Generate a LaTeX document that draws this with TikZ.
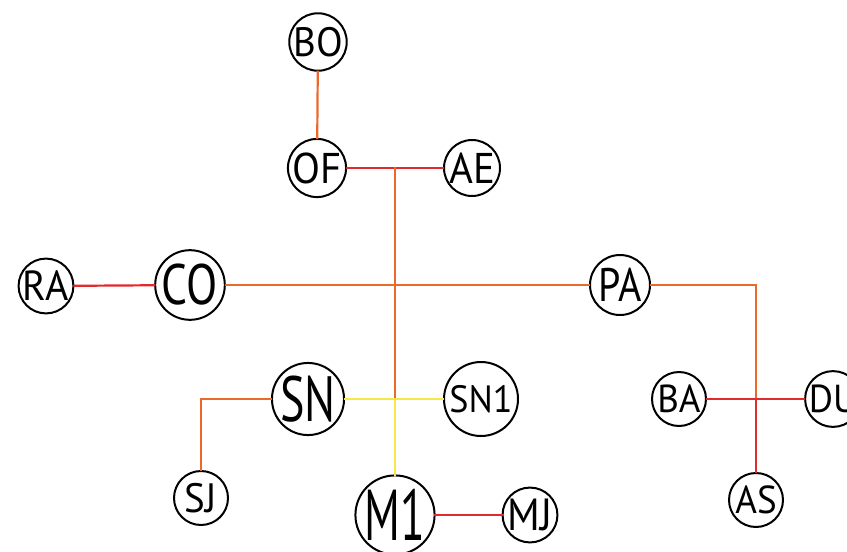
\documentclass[tikz,border=0pt]{standalone}
\usepackage{fontspec}
\usepackage{graphicx}
\setmainfont{PT Sans}
\usetikzlibrary{calc}
\definecolor{lnRed}{HTML}{E02A2E}
\definecolor{lnOrg}{HTML}{EA6A2C}
\definecolor{lnYel}{HTML}{F6E847}
\newcommand{\lbl}[3][1]{\scalebox{#1}[1]{\fontsize{#2}{#2}\selectfont #3}}

\begin{document}
\begin{tikzpicture}[x=1pt,y=-1pt,
  stn/.style={draw,circle,line width=2pt,inner sep=0pt,minimum size=#1},
  lk/.style={line width=2.2pt,line cap=rect}]
  \useasboundingbox (0,0) rectangle (847,552);
  \clip (0,0) rectangle (847,552);
  % upper branch
  \node[stn=54] (BO) at (318,42) {\lbl[0.95]{41}{BO}};
  \node[stn=56] (OF) at (317,168) {\lbl[0.95]{43}{OF}};
  \node[stn=56] (AE) at (472,168) {\lbl[0.95]{43}{AE}};
  % middle line
  \node[stn=52] (RA) at (46,286) {\lbl[0.95]{42}{RA}};
  \node[stn=66] (CO) at (190,285) {\lbl[0.8]{57}{CO}};
  \node[stn=60] (PA) at (620,285) {\lbl[0.85]{47}{PA}};
  % lower left
  \node[stn=72] (SN) at (308,399) {\lbl[0.72]{64}{SN}};
  \node[stn=74] (SN1) at (481,399) {\lbl[0.95]{38}{SN1}};
  \node[stn=54] (SJ) at (201,498) {\lbl[0.95]{41}{SJ}};
  \node[stn=74] (M1) at (395,515) {\lbl[0.63]{72}{M1}};
  \node[stn=54] (MJ) at (530,515) {\lbl[0.92]{45}{MJ}};
  % lower right
  \node[stn=54] (BA) at (679,399) {\lbl[0.95]{39}{BA}};
  \node[stn=54] (DU) at (833,399) {\lbl[0.95]{39}{DU}};
  \node[stn=54] (AS) at (756,500) {\lbl[0.95]{39}{AS}};
  % junctions
  \coordinate (j1) at (395,168);
  \coordinate (j2) at (395,399);
  \coordinate (j3) at (756,399);
  % links
  \draw[lk,lnOrg] (BO) -- (OF);
  \draw[lk,lnRed] (OF) -- (AE);
  \draw[lk,lnOrg] (j1) -- (j2);
  \draw[lk,lnYel] (j2) -- (M1);
  \draw[lk,lnYel] (SN) -- (SN1);
  \draw[lk,lnOrg] (SN) -| (SJ);
  \draw[lk,lnRed] (M1) -- (MJ);
  \draw[lk,lnRed] (RA) -- (CO);
  \draw[lk,lnOrg] (CO) -- (PA);
  \draw[lk,lnOrg] (PA) -| (j3);
  \draw[lk,lnRed] (BA) -- (DU);
  \draw[lk,lnRed] (j3) -- (AS);
\end{tikzpicture}
\end{document}
